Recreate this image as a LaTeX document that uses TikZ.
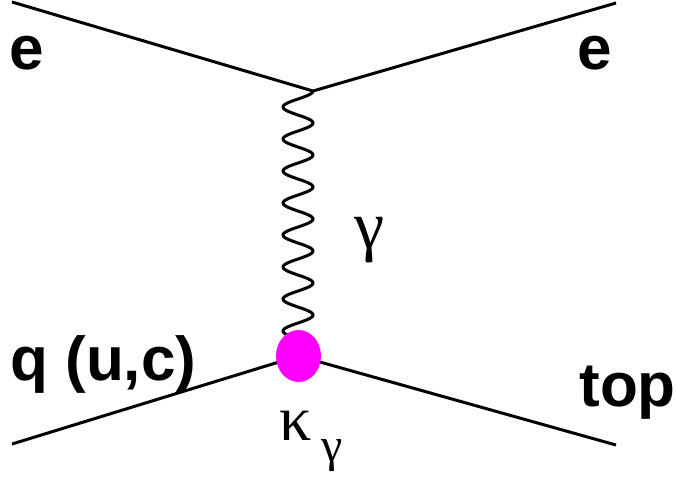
\documentclass[tikz,border=0pt]{standalone}
\usepackage{fontspec}
\setmainfont{Liberation Sans}
\newfontfamily\greekfont{Liberation Serif}
\usetikzlibrary{positioning,shapes.geometric}
\definecolor{blobmagenta}{RGB}{255,0,255}
\tikzset{
  fermion/.style = {line width=1.5pt},
  photon/.style = {line width=1.5pt},
  particle/.style = {inner sep=0pt, anchor=base west,
                     font=\fontsize{31}{36}\selectfont\bfseries},
  greek/.style = {inner sep=0pt, font=\greekfont\fontsize{34}{40}\selectfont},
  coupling/.style = {ellipse, fill=blobmagenta, inner sep=0pt,
                     minimum width=22.5pt, minimum height=26pt}
}

\begin{document}
\begin{tikzpicture}[x=0.5pt,y=-0.5pt]
  \useasboundingbox (0,0) rectangle (676,478);

  \coordinate (vtop) at (313,91);
  \coordinate (vbot) at (298.5,356);
  \coordinate (ein)  at (12,2);
  \coordinate (eout) at (616,3);
  \coordinate (qin)  at (12,444);
  \coordinate (tout) at (616,445);

  \draw[fermion] (ein) -- (vtop) -- (eout);
  \draw[fermion] (qin) -- (vbot) -- (tout);
  % gamma exchange, period 32
  \draw[photon, shift={(vtop)}] plot[domain=0:250, samples=300, smooth]
    ({15*cos(11.25*\x)-15}, \x);
  \node[coupling] (blob) at (vbot) {};

  \node[particle] (eleft)  at (9.5,69)  {e};
  \node[particle] (eright) at (577.5,69) {e};
  \node[particle] (quark)  at (10,380)  {q (u,c)};
  \node[particle] (top)    at (579,406) {top};

  \node[greek] (gamma) at (370,240) {γ};
  \node[greek, anchor=base west, font=\greekfont\fontsize{32}{38}\selectfont] (kappa) at (279,440)
    {κ\hspace{5pt}\raisebox{-10.75pt}{\fontsize{24}{28}\selectfont γ}};
\end{tikzpicture}
\end{document}
